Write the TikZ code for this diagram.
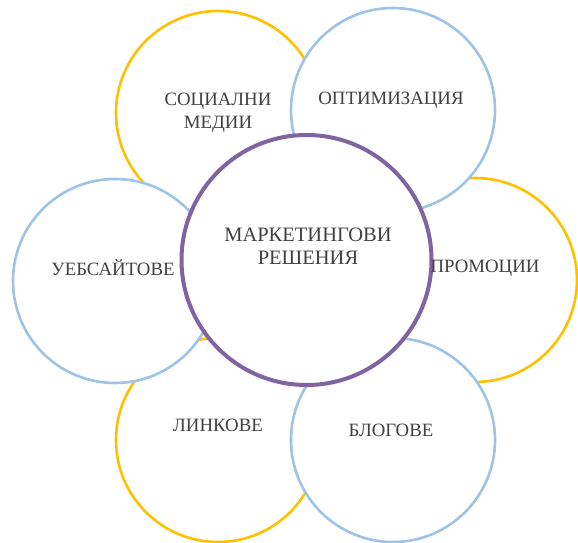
\documentclass[tikz,border=0pt]{standalone}
\usepackage{fontspec}
\setmainfont{Liberation Serif}
\definecolor{cyel}{HTML}{FFC000}
\definecolor{cblu}{HTML}{9DC3E6}
\definecolor{cpur}{HTML}{8064A2}
\definecolor{ctxt}{HTML}{404040}
\begin{document}
\begin{tikzpicture}[x=1pt,y=1pt,
  ring/.style={circle,fill=white,inner sep=0pt,minimum size=204pt,line width=2.6pt},
  yring/.style={ring,draw=cyel},
  bring/.style={ring,draw=cblu},
  pring/.style={circle,fill=white,inner sep=0pt,minimum size=250pt,line width=4pt,draw=cpur},
  lbl/.style={text=ctxt,font=\fontsize{18.8}{22.5}\selectfont,align=center,inner sep=0pt},
  biglbl/.style={lbl,font=\fontsize{20.5}{23}\selectfont}]
\useasboundingbox (0,0) rectangle (578,542);
% yellow circles
\node[yring] (soc) at (218,429) {};
\node[yring] (pro) at (475,262) {};
\node[yring] (lin) at (218,102) {};
% blue circles
\node[bring] (opt) at (393,432) {};
\node[bring] (web) at (115,261) {};
\node[bring] (blo) at (393,102) {};
% centre
\node[pring] (mar) at (306.5,282) {};
% labels
\node[lbl] (tsoc) at (218,429) {СОЦИАЛНИ\\МЕДИИ};
\node[lbl] (topt) at (391,442) {ОПТИМИЗАЦИЯ};
\node[biglbl] (tmar) at (308,296) {МАРКЕТИНГОВИ\\РЕШЕНИЯ};
\node[lbl] (tpro) at (485,274) {ПРОМОЦИИ};
\node[lbl] (tweb) at (113,274) {УЕБСАЙТОВЕ};
\node[lbl] (tlin) at (218,117) {ЛИНКОВЕ};
\node[lbl] (tblo) at (391,112) {БЛОГОВЕ};
\end{tikzpicture}
\end{document}
